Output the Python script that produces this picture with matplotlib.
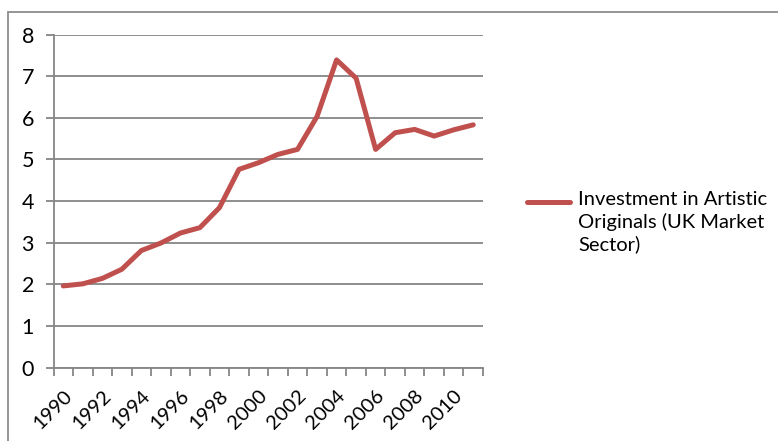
#!/usr/bin/env python3

import numpy as np
import matplotlib
matplotlib.use("Agg")
import matplotlib.pyplot as plt
from matplotlib.lines import Line2D
from matplotlib.patches import Rectangle

# data.
years = list(range(1990, 2012))
values = [1.96, 2.01, 2.14, 2.36, 2.81, 2.99, 3.23, 3.36, 3.84, 4.76, 4.92,
          5.12, 5.24, 6.03, 7.39, 6.95, 5.24, 5.64, 5.72, 5.56, 5.71, 5.83]
series_name = "Investment in Artistic\nOriginals (UK Market\nSector)"
y_ticks = [0, 1, 2, 3, 4, 5, 6, 7, 8]

line_color = "#C0504D"
grid_color = "#868686"
font = ["Lato", "DejaVu Sans"]

plt.rcParams["font.family"] = font

fig = plt.figure(figsize=(7.78, 4.41), dpi=100)
# chart area border (only top and left edges are visible in the crop).
fig.add_artist(Rectangle((8 / 778, -0.1), 1.2, 1 - 12 / 441 + 0.1, transform=fig.transFigure,
                         fill=False, edgecolor="#8C8C8C", lw=1.3))

ax = fig.add_axes([53.5 / 778, 1 - 367.5 / 441, (483 - 53.5) / 778, (367.5 - 34.5) / 441])

x = np.arange(len(years))
ax.plot(x, values, color=line_color, lw=3.6, solid_capstyle="round", solid_joinstyle="round",
        zorder=3)

# axes styling.
ax.set_xlim(-0.5, len(years) - 0.5)
ax.set_ylim(0, 8)
ax.set_yticks(y_ticks)
ax.set_yticklabels([str(v) for v in y_ticks], fontsize=15.5)
ax.yaxis.grid(True, color=grid_color, lw=1.3)
ax.set_axisbelow(True)
for side in ["top", "right"]:
    ax.spines[side].set_visible(False)
for side in ["left", "bottom"]:
    ax.spines[side].set_color(grid_color)
    ax.spines[side].set_linewidth(1.3)
ax.tick_params(axis="y", length=6, width=1.3, color=grid_color, pad=8)

# category labels every second year, tick marks between categories.
ax.set_xticks(x[::2])
ax.set_xticklabels([str(y) for y in years[::2]], fontsize=14.5, rotation=45,
                   ha="right", va="top", rotation_mode="anchor")
ax.tick_params(axis="x", which="major", length=0, pad=14)
ax.set_xticks(np.arange(-0.5, len(years), 1), minor=True)
ax.tick_params(axis="x", which="minor", length=6, width=1.3, color=grid_color)

# legend drawn to the right of the plot area.
fig.add_artist(Line2D([527 / 778, 570 / 778], [1 - 202 / 441] * 2, transform=fig.transFigure,
                      color=line_color, lw=3.6, solid_capstyle="round"))
fig.text(578 / 778, 1 - 191 / 441, series_name, fontsize=14.5, va="top", ha="left",
         linespacing=1.31)

fig.savefig("out.png", dpi=100)
